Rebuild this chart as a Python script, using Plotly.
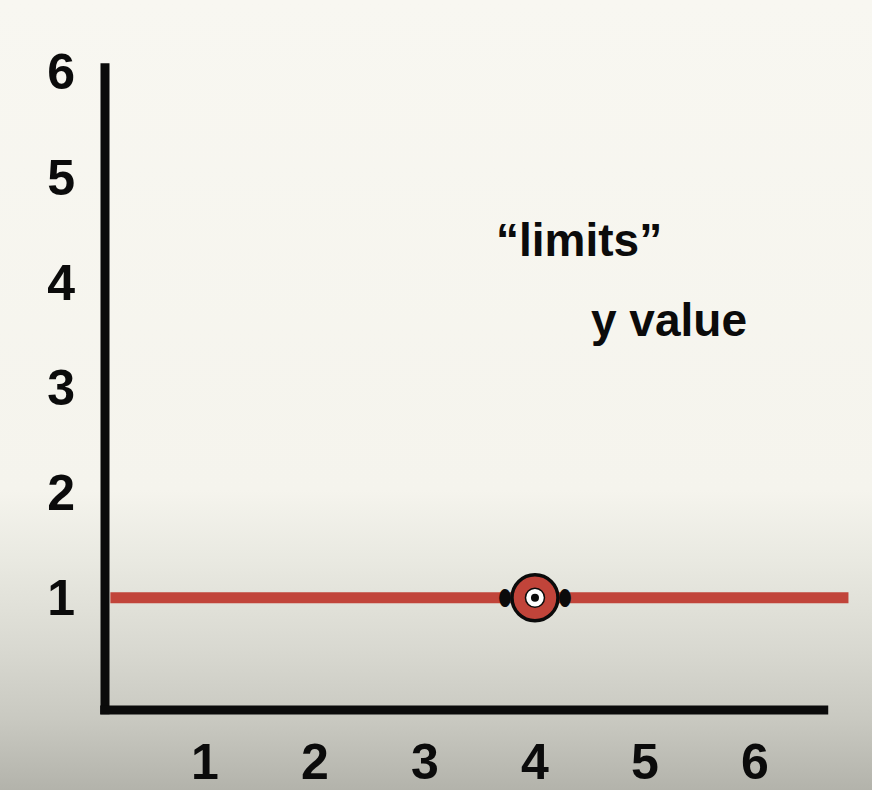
import base64
import plotly.graph_objects as go

# ---- data ----
x_ticks = [1, 2, 3, 4, 5, 6]
x_tick_labels = ["1", "2", "3", "4", "5", "6"]
y_ticks = [1, 2, 3, 4, 5, 6]
y_tick_labels = ["1", "2", "3", "4", "5", "6"]
line_x = [0.14, 6.85]
line_y = [1, 1]
point_x = [4]
point_y = [1]
note_lines = ["\u201climits\u201d", "y value"]

RED = "#c1443a"
INK = "#0b0b0b"
FONT = "Liberation Sans Narrow, Liberation Sans, Open Sans, sans-serif"

# gradient background (style only)
svg = """<svg xmlns='http://www.w3.org/2000/svg' width='872' height='790' preserveAspectRatio='none'>
<defs><linearGradient id='g' x1='0' y1='0' x2='0' y2='1'>
<stop offset='0' stop-color='#f8f7f1'/>
<stop offset='0.62' stop-color='#f5f4ed'/>
<stop offset='0.71' stop-color='#e9e9e1'/>
<stop offset='0.82' stop-color='#d9d9d1'/>
<stop offset='0.91' stop-color='#c9c9c1'/>
<stop offset='1' stop-color='#b3b3ab'/>
</linearGradient></defs>
<rect width='872' height='790' fill='url(#g)'/></svg>"""
bg_uri = "data:image/svg+xml;base64," + base64.b64encode(svg.encode()).decode()

fig = go.Figure()

# red horizontal line y = 1
fig.add_trace(go.Scatter(x=line_x, y=line_y, mode="lines",
                         line=dict(color=RED, width=11), hoverinfo="skip",
                         showlegend=False))

# small side marks around the point (behind the ring)
for sh in (-30, 30):
    fig.add_annotation(x=point_x[0], y=point_y[0], xref="x", yref="y",
                       text="\u2b2e", showarrow=False, xshift=sh, yshift=0,
                       font=dict(family="DejaVu Sans", size=22, color=INK))

# point: red ring, white centre, black dot
fig.add_trace(go.Scatter(x=point_x, y=point_y, mode="markers",
                         marker=dict(size=46, color=RED, line=dict(color=INK, width=3.5)),
                         showlegend=False, hoverinfo="skip"))
fig.add_trace(go.Scatter(x=point_x, y=point_y, mode="markers",
                         marker=dict(size=19, color="white", line=dict(color=INK, width=1.5)),
                         showlegend=False, hoverinfo="skip"))
fig.add_trace(go.Scatter(x=point_x, y=point_y, mode="markers",
                         marker=dict(size=8, color=INK),
                         showlegend=False, hoverinfo="skip"))

# handwritten note
fig.add_annotation(x=4.4, y=4.4, xref="x", yref="y", text=note_lines[0],
                   showarrow=False, font=dict(family=FONT, size=46, color=INK, weight="bold"))
fig.add_annotation(x=5.22, y=3.64, xref="x", yref="y", text=note_lines[1],
                   showarrow=False, font=dict(family=FONT, size=46, color=INK, weight="bold"))

# axis lines (hand-drawn style, drawn as shapes)
fig.add_shape(type="line", xref="paper", yref="paper", x0=0.0013, x1=0.0013,
              y0=-0.006, y1=0.911, line=dict(color=INK, width=9))
fig.add_shape(type="line", xref="paper", yref="paper", x0=-0.005, x1=0.943,
              y0=0, y1=0, line=dict(color=INK, width=9))

fig.update_layout(
    width=872, height=790,
    margin=dict(l=104, r=0, t=0, b=80),
    paper_bgcolor="#f8f7f1",
    plot_bgcolor="rgba(0,0,0,0)",
    showlegend=False,
    images=[dict(source=bg_uri, xref="paper", yref="paper",
                 x=-104 / 768, y=1, sizex=872 / 768, sizey=790 / 710,
                 xanchor="left", yanchor="top", sizing="stretch", layer="below")],
    xaxis=dict(range=[0.082, 7.064], tickvals=x_ticks, ticktext=x_tick_labels,
               showgrid=False, zeroline=False, showline=False, ticks="",
               ticklabelstandoff=18,
               tickfont=dict(family=FONT, size=50, color=INK, weight="bold")),
    yaxis=dict(range=[-0.0665, 6.683], tickvals=y_ticks, ticktext=y_tick_labels,
               showgrid=False, zeroline=False, showline=False, ticks="",
               ticklabelstandoff=28,
               tickfont=dict(family=FONT, size=50, color=INK, weight="bold")),
)

fig.write_html("out.html", config={"displayModeBar": False},
               post_script="document.body.style.margin='0';document.body.style.overflow='hidden';")
